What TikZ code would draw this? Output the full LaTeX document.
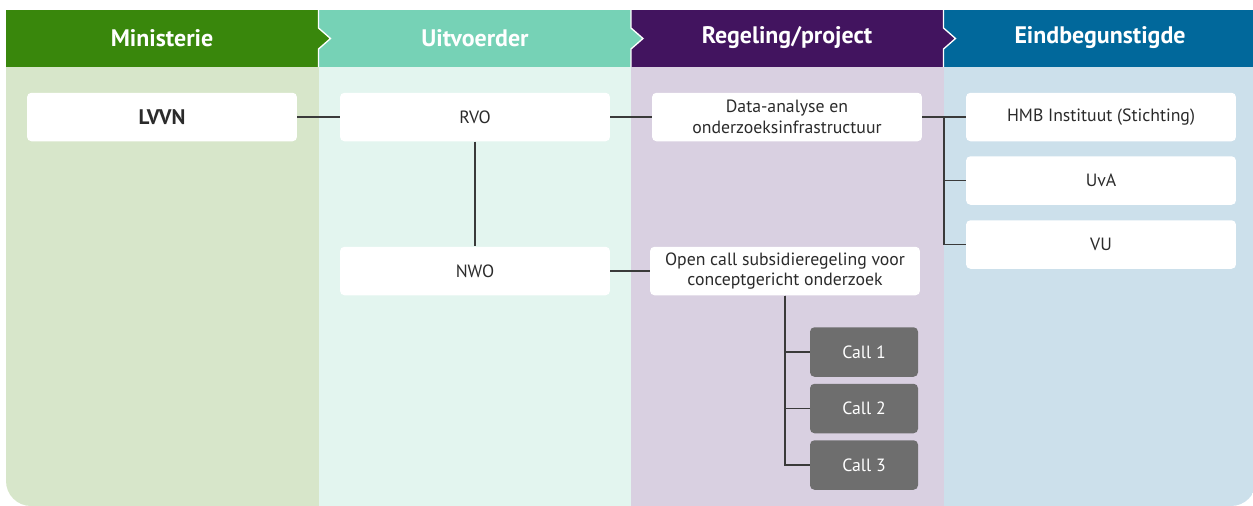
\documentclass[tikz,border=0pt]{standalone}
\usepackage{fontspec}
\setmainfont{PT Sans}
\usepackage{tikz}

\definecolor{minGreen}{HTML}{39870C}
\definecolor{minGreenLight}{HTML}{D7E6CA}
\definecolor{uitMint}{HTML}{76D2B6}
\definecolor{uitMintLight}{HTML}{E3F5EF}
\definecolor{regViolet}{HTML}{42145F}
\definecolor{regVioletLight}{HTML}{D9D0E1}
\definecolor{eindBlue}{HTML}{01689B}
\definecolor{eindBlueLight}{HTML}{CCE0EB}
\definecolor{callGray}{HTML}{6E6E6E}
\definecolor{lineGray}{HTML}{3A3A3A}
\definecolor{txtGray}{HTML}{2B2B2B}

\begin{document}
\begin{tikzpicture}[x=0.02cm,y=-0.02cm,
    box/.style={fill=white, rounded corners=2.5pt, minimum width=5.4cm,
        minimum height=0.97cm, inner sep=0pt, align=center, text=txtGray,
        font=\fontsize{10.1}{11.6}\selectfont},
    callbox/.style={box, fill=callGray, text=white, minimum width=2.16cm,
        minimum height=0.99cm},
    head/.style={text=white, font=\fontsize{13.6}{15}\selectfont\bfseries},
    link/.style={draw=lineGray, line width=0.7pt},
    notch/.style={draw=white, line width=0.75pt}]

    \useasboundingbox (0,0) rectangle (1253,505);

    % ================= COLUMNS =================
    \begin{scope}
    \clip[rounded corners=0.5cm] (6,10) rectangle (1256,506)
        [sharp corners] (6,10) rectangle (1256,100);

    \fill[minGreen]       (6,10)     rectangle (318.5,67);
    \fill[uitMint]        (318.5,10) rectangle (631,67);
    \fill[regViolet]      (631,10)   rectangle (943.5,67);
    \fill[eindBlue]       (943.5,10) rectangle (1256,67);

    \fill[minGreenLight]  (6,67)     rectangle (318.5,506);
    \fill[uitMintLight]   (318.5,67) rectangle (631,506);
    \fill[regVioletLight] (631,67)   rectangle (943.5,506);
    \fill[eindBlueLight]  (943.5,67) rectangle (1256,506);
    \end{scope}

    % chevrons between the headers
    \fill[minGreen]  (318.5,28) -- (330.5,38.5) -- (318.5,49) -- cycle;
    \fill[uitMint]   (631,28) -- (643,38.5) -- (631,49) -- cycle;
    \fill[regViolet] (943.5,28) -- (955.5,38.5) -- (943.5,49) -- cycle;
    \draw[notch] (318.5,10) -- (318.5,28) -- (330.5,38.5) -- (318.5,49) -- (318.5,67);
    \draw[notch] (631,10) -- (631,28) -- (643,38.5) -- (631,49) -- (631,67);
    \draw[notch] (943.5,10) -- (943.5,28) -- (955.5,38.5) -- (943.5,49) -- (943.5,67);

    % Labels
    \node[head] (hMin) at (162,38)  {Ministerie};
    \node[head] (hUit) at (475,38)  {Uitvoerder};
    \node[head] (hReg) at (787,38)  {Regeling/project};
    \node[head] (hEin) at (1100,38) {Eindbegunstigde};

    % ================= BOXES =================
    \node[box, font=\fontsize{12}{13}\selectfont\bfseries] (lvvn) at (162,117) {LVVN};
    \node[box] (rvo)  at (475,117) {RVO};
    \node[box] (nwo)  at (475,271) {NWO};
    \node[box] (data) at (787,117) {Data-analyse en\\onderzoeksinfrastructuur};
    \node[box] (open) at (785,271) {Open call subsidieregeling voor\\conceptgericht onderzoek};

    \node[callbox] (call1) at (864,352)   {Call 1};
    \node[callbox] (call2) at (864,408.5) {Call 2};
    \node[callbox] (call3) at (864,465)   {Call 3};

    \node[box] (hmb) at (1101,117)   {HMB Instituut (Stichting)};
    \node[box] (uva) at (1101,180.5) {UvA};
    \node[box] (vu)  at (1101,244.5) {VU};

    % ================= CONNECTORS =================
    \draw[link] (lvvn) -- (rvo);
    \draw[link] (rvo) -- (nwo);
    \draw[link] (rvo) -- (data);
    \draw[link] (nwo) -- (open);
    \draw[link] (data) -- (hmb);

    \coordinate (split) at (944,117);
    \draw[link] (split) |- (uva.west);
    \draw[link] (split) |- (vu.west);

    \draw[link] (open.south) |- (call1.west);
    \draw[link] (open.south) |- (call2.west);
    \draw[link] (open.south) |- (call3.west);
\end{tikzpicture}
\end{document}
